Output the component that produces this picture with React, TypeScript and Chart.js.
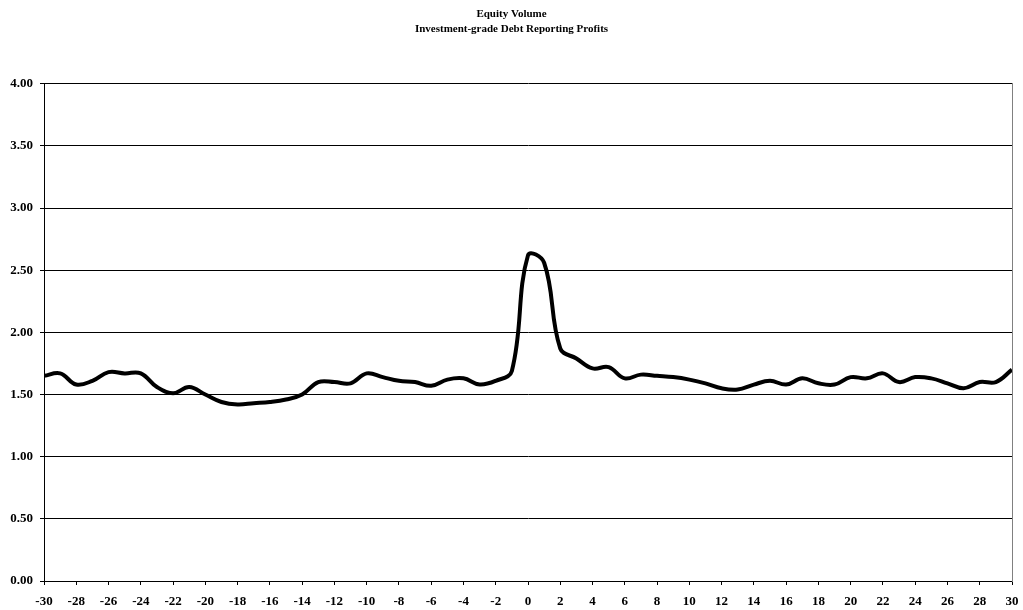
import React, { useEffect, useRef } from "react";
import { Chart, registerables } from "chart.js";

Chart.register(...registerables);

const dayOffsets: number[] = [
  -30, -29, -28, -27, -26, -25, -24, -23, -22, -21, -20, -19, -18, -17, -16, -15,
  -14, -13, -12, -11, -10, -9, -8, -7, -6, -5, -4, -3, -2, -1, 0, 1, 2, 3, 4, 5,
  6, 7, 8, 9, 10, 11, 12, 13, 14, 15, 16, 17, 18, 19, 20, 21, 22, 23, 24, 25, 26,
  27, 28, 29, 30,
];

const equityVolume: number[] = [
  1.65, 1.67, 1.58, 1.61, 1.68, 1.67, 1.67, 1.56, 1.51, 1.56, 1.50, 1.44, 1.42,
  1.43, 1.44, 1.46, 1.50, 1.60, 1.60, 1.59, 1.67, 1.64, 1.61, 1.60, 1.57, 1.62,
  1.63, 1.58, 1.61, 1.69, 2.62, 2.56, 1.87, 1.79, 1.71, 1.72, 1.63, 1.66, 1.65,
  1.64, 1.62, 1.59, 1.55, 1.54, 1.58, 1.61, 1.58, 1.63, 1.59, 1.58, 1.64, 1.63,
  1.67, 1.60, 1.64, 1.63, 1.59, 1.55, 1.60, 1.60, 1.70,
];

const titleLines: string[] = ["Equity Volume", "Investment-grade Debt Reporting Profits"];

const FONT = "'Liberation Serif', 'Times New Roman', serif";

export default function App() {
  const canvasRef = useRef<HTMLCanvasElement | null>(null);

  useEffect(() => {
    if (!canvasRef.current) return;
    const points = dayOffsets.map((d, i) => ({ x: d, y: equityVolume[i] }));
    const chart = new Chart(canvasRef.current, {
      type: "line",
      data: {
        datasets: [
          {
            label: "Equity Volume",
            data: points,
            borderColor: "#000000",
            borderWidth: 4,
            pointRadius: 0,
            tension: 0.4,
            fill: false,
          },
        ],
      },
      options: {
        animation: false,
        responsive: false,
        maintainAspectRatio: false,
        layout: { padding: { left: 0, right: 0, top: 0, bottom: 0 } },
        plugins: {
          legend: { display: false },
          tooltip: { enabled: false },
          title: {
            display: true,
            text: titleLines,
            color: "#000000",
            font: { family: FONT, size: 11, weight: "bold", lineHeight: 1.35 },
            padding: { top: 7, bottom: 47 },
          },
        },
        scales: {
          x: {
            type: "linear",
            min: -30,
            max: 30,
            afterFit: (scale: any) => {
              scale.height = 29;
              scale.paddingRight = 0;
              scale.paddingLeft = 0;
            },
            ticks: {
              stepSize: 2,
              color: "#000000",
              font: { family: FONT, size: 13, weight: "bold" },
              padding: 9,
              maxRotation: 0,
              autoSkip: false,
            },
            grid: {
              drawOnChartArea: false,
              drawTicks: true,
              tickLength: 4,
              color: "#000000",
            },
            border: { display: true, color: "#000000", width: 1 },
          },
          y: {
            min: 0,
            max: 4,
            afterFit: (scale: any) => {
              scale.width = 44;
            },
            ticks: {
              stepSize: 0.5,
              color: "#000000",
              font: { family: FONT, size: 13, weight: "bold" },
              padding: 7,
              callback: (v: any) => Number(v).toFixed(2),
            },
            grid: {
              color: "#000000",
              lineWidth: 1,
              drawTicks: true,
              tickLength: 4,
            },
            border: { display: true, color: "#000000", width: 1 },
          },
          y2: {
            position: "right",
            min: 0,
            max: 4,
            afterFit: (scale: any) => {
              scale.width = 11;
            },
            ticks: { display: false },
            grid: { drawOnChartArea: false, drawTicks: false },
            border: { display: true, color: "#808080", width: 1 },
          },
        },
      },
    });
    return () => chart.destroy();
  }, []);

  return (
    <div style={{ position: "fixed", left: 0, top: 0, width: 1023, height: 610, background: "#ffffff" }}>
      <canvas ref={canvasRef} width={1023} height={610} style={{ display: "block" }} />
    </div>
  );
}
